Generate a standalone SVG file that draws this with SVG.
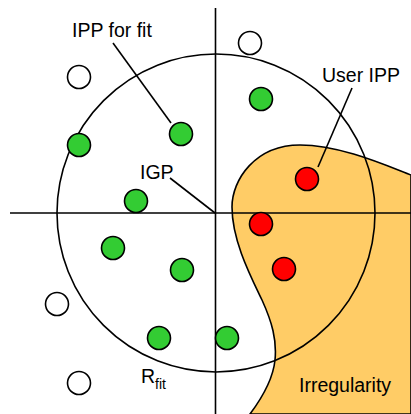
<svg xmlns="http://www.w3.org/2000/svg" width="411" height="414" viewBox="0 0 411 414">
<style>
.ln{fill:none;stroke:#000;stroke-width:1.6}
.dot{stroke:#000;stroke-width:1.6}
.w{fill:#fff}
.g{fill:#33CC33}
.r{fill:#FF0000}
.t{font-family:"Liberation Sans",Arial,sans-serif;font-size:19.5px;fill:#000}
</style>
<g id="irregularity">
<path d="M 411 175 C 385 165, 340 145, 300 145 C 255 145, 232 180, 232 207 C 232 240, 250 275, 262 300 C 272 322, 277 340, 275 360 C 273 380, 262 398, 250 414 L 411 414 Z" fill="#FFCC66" stroke="#000" stroke-width="1.6"/>
<text class="t" x="299" y="392">Irregularity</text>
</g>
<g id="axes">
<line class="ln" x1="10" y1="213" x2="411" y2="213"/>
<line class="ln" x1="215.5" y1="8" x2="215.5" y2="414"/>
</g>
<g id="fit-circle">
<circle class="ln" cx="216" cy="213" r="159"/>
</g>
<g id="connectors">
<line class="ln" x1="113" y1="43" x2="171" y2="123"/>
<line class="ln" x1="170" y1="178" x2="215" y2="213"/>
<line class="ln" x1="352" y1="88" x2="318" y2="167"/>
</g>
<g id="outside-points">
<circle class="dot w" cx="79" cy="77" r="11.5"/>
<circle class="dot w" cx="250" cy="43" r="11.5"/>
<circle class="dot w" cx="57" cy="304" r="11.5"/>
<circle class="dot w" cx="79" cy="383" r="11.5"/>
</g>
<g id="fit-points">
<circle class="dot g" cx="181" cy="134" r="11.5"/>
<circle class="dot g" cx="79" cy="145" r="11.5"/>
<circle class="dot g" cx="136" cy="201" r="11.5"/>
<circle class="dot g" cx="261" cy="99" r="11.5"/>
<circle class="dot g" cx="113" cy="248" r="11.5"/>
<circle class="dot g" cx="182" cy="270" r="11.5"/>
<circle class="dot g" cx="159" cy="338" r="11.5"/>
<circle class="dot g" cx="227" cy="338" r="11.5"/>
</g>
<g id="user-points">
<circle class="dot r" cx="307" cy="179" r="11.5"/>
<circle class="dot r" cx="261" cy="224" r="11.5"/>
<circle class="dot r" cx="284" cy="269" r="11.5"/>
</g>
<g id="labels">
<text class="t" x="141" y="383" font-size="18px">R<tspan font-size="14px" dy="6">fit</tspan></text>
<text class="t" x="72" y="37">IPP for fit</text>
<text class="t" x="140" y="179">IGP</text>
<text class="t" x="322" y="82">User IPP</text>
</g>
</svg>
